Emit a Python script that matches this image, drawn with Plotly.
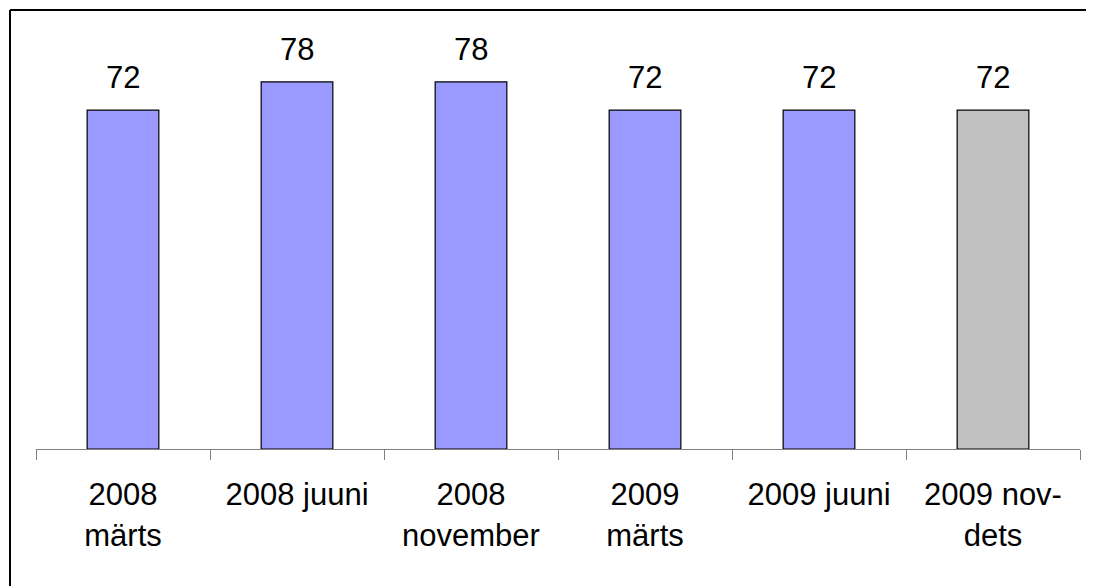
import plotly.graph_objects as go

categories = ["2008<br>märts", "2008 juuni", "2008<br>november", "2009<br>märts", "2009 juuni", "2009 nov-<br>dets"]
values = [72, 78, 78, 72, 72, 72]
bar_colors = ["#9999FF", "#9999FF", "#9999FF", "#9999FF", "#9999FF", "#C0C0C0"]

FONT = "Liberation Sans, Arial, sans-serif"

fig = go.Figure()
fig.add_trace(go.Bar(
    x=categories, y=values,
    marker=dict(color=bar_colors, line=dict(color="black", width=1.2)),
    hoverinfo="skip",
))

for c, v in zip(categories, values):
    fig.add_annotation(x=c, y=v, text=str(v), showarrow=False, yanchor="bottom",
                       yshift=13, font=dict(family=FONT, size=31, color="black"))

# outer frame (top and left edges)
fig.add_shape(type="line", xref="paper", yref="paper", x0=-0.0249, x1=1.03, y0=1.0354, y1=1.0354,
              line=dict(color="black", width=2))
fig.add_shape(type="line", xref="paper", yref="paper", x0=-0.0249, x1=-0.0249, y0=1.0354, y1=-0.36,
              line=dict(color="black", width=2))

fig.update_layout(
    width=1094, height=586,
    margin=dict(l=28, r=22, t=17, b=145),
    paper_bgcolor="white", plot_bgcolor="white",
    bargap=0.588,
    showlegend=False,
    font=dict(family=FONT, size=31, color="black"),
)
fig.update_xaxes(
    showline=True, linecolor="#808080", linewidth=1,
    ticks="outside", ticklen=10, tickcolor="#808080", tickwidth=1,
    tickson="boundaries", showgrid=False,
    tickfont=dict(family=FONT, size=31, color="black"),
    ticklabelstandoff=18,
)
fig.update_yaxes(range=[0, 90.1], visible=False, showgrid=False, zeroline=False)

fig.write_html("out.html")
